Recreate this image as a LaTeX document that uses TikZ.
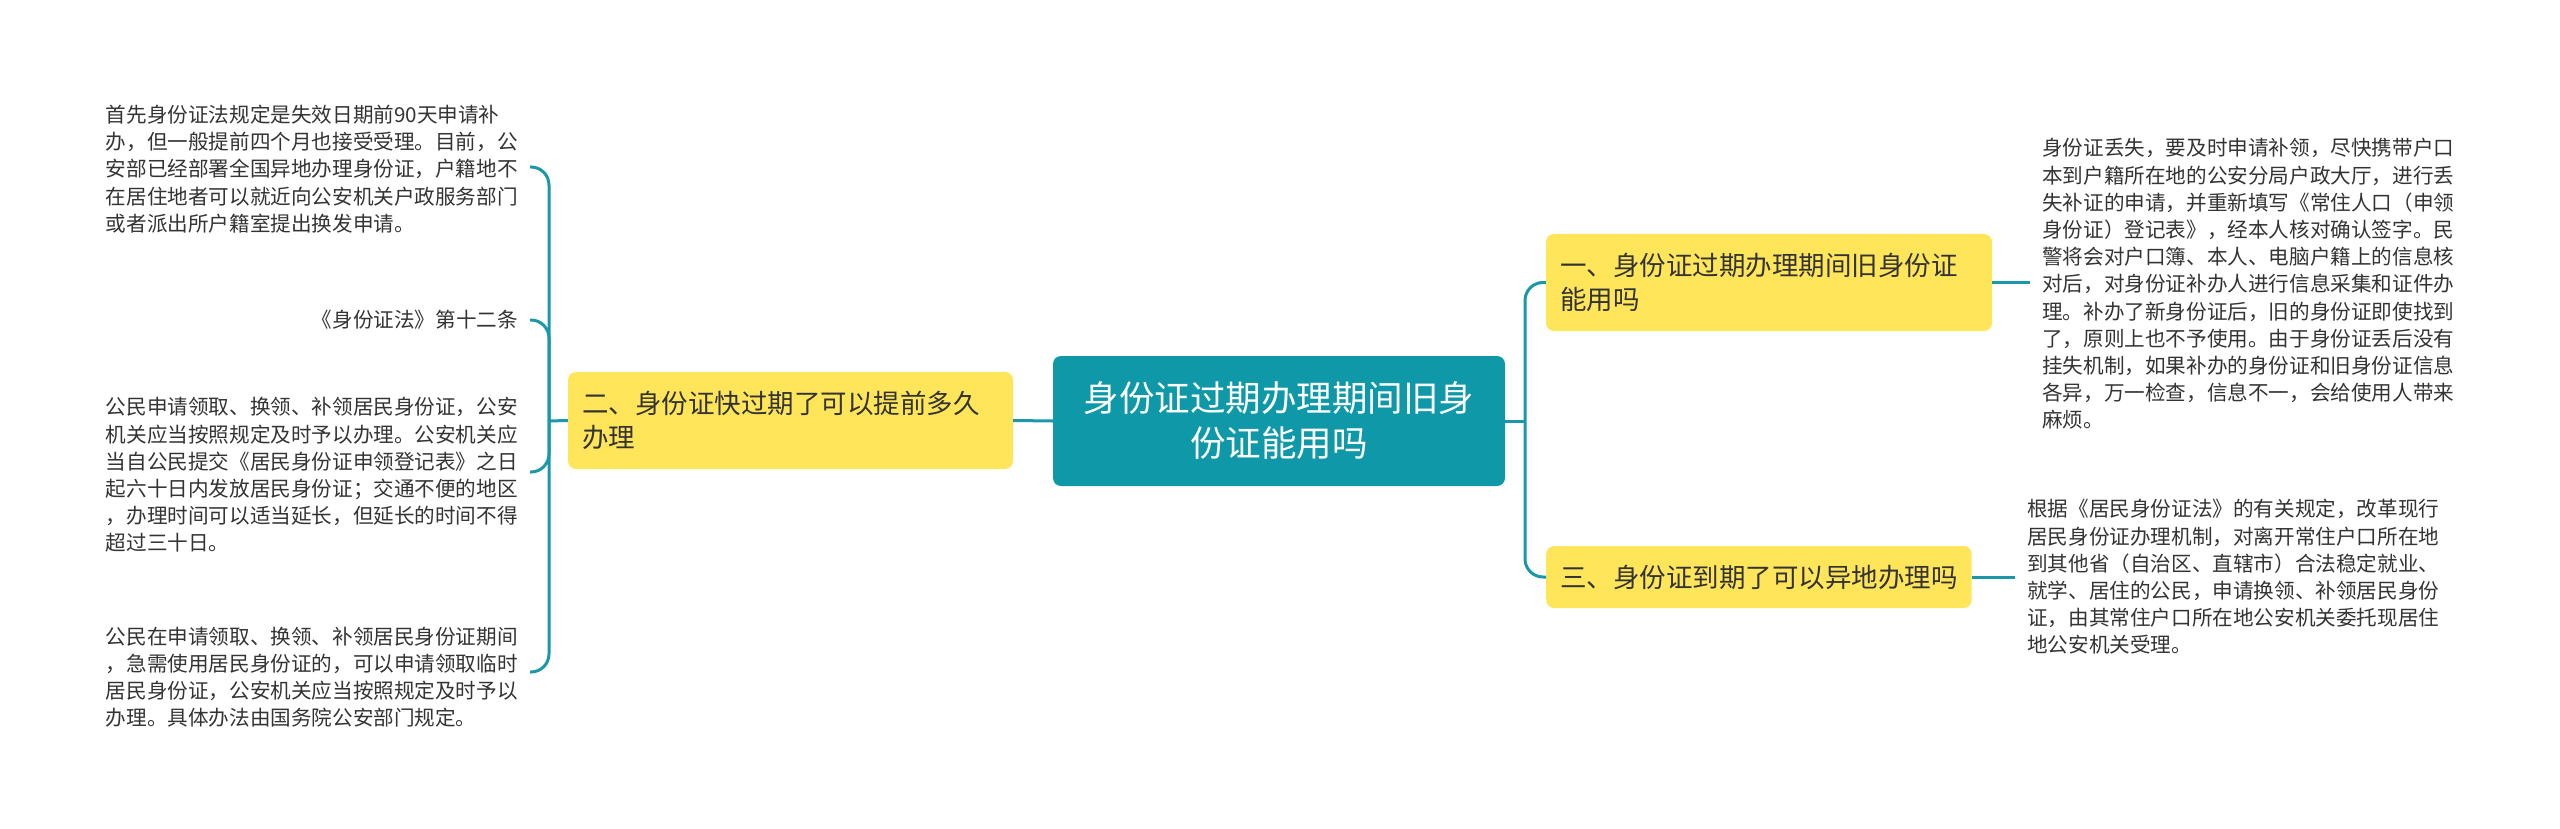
\documentclass[tikz,border=0pt]{standalone}
\usepackage{fontspec}
\setmainfont{Noto Sans CJK SC}
\definecolor{teal1}{HTML}{0F99A8}
\definecolor{line1}{HTML}{1A97A8}
\definecolor{yel}{HTML}{FFE55A}
\definecolor{txt}{HTML}{333333}
\tikzset{
  conn/.style={draw=line1, line width=3pt, rounded corners=18pt},
  rootbox/.style={fill=teal1, rounded corners=8pt, text=white, align=center,
    minimum width=452pt, minimum height=130pt, inner sep=0pt,
    font=\fontsize{35.5}{45}\selectfont},
  topicbox/.style={fill=yel, rounded corners=8pt, text=txt, align=left,
    inner xsep=14pt, inner ysep=0pt, minimum height=#1,
    font=\fontsize{26.5}{34}\selectfont},
  leaf/.style={text=txt, align=left, inner xsep=12pt, inner ysep=4pt,
    font=\fontsize{20.6}{27.2}\selectfont},
}
\begin{document}
\begin{tikzpicture}[x=1pt,y=-1pt]
\useasboundingbox (0,0) rectangle (2560,829);
% root
\node[rootbox] (root) at (1279,421) {身份证过期办理期间旧身\\份证能用吗};
% topics
\node[topicbox=97pt, text width=417pt] (t2) at (790.5,420.5) {二、身份证快过期了可以提前多久\\办理};
\node[topicbox=97pt, text width=418pt] (t1) at (1769,282.5) {一、身份证过期办理期间旧身份证\\能用吗};
\node[topicbox=62pt, anchor=west] (t3) at (1546,577) {三、身份证到期了可以异地办理吗};
% trunks
\coordinate (lt) at (549,421);
\coordinate (rt) at (1525,421);
% left leaves
\node[leaf, anchor=east] (l1) at (530,169) {首先身份证法规定是失效日期前90天申请补\\办，但一般提前四个月也接受受理。目前，公\\安部已经部署全国异地办理身份证，户籍地不\\在居住地者可以就近向公安机关户政服务部门\\或者派出所户籍室提出换发申请。};
\node[leaf, anchor=east, align=right] (l2) at (530,320) {《身份证法》第十二条};
\node[leaf, anchor=east] (l3) at (530,475) {公民申请领取、换领、补领居民身份证，公安\\机关应当按照规定及时予以办理。公安机关应\\当自公民提交《居民身份证申领登记表》之日\\起六十日内发放居民身份证；交通不便的地区\\，办理时间可以适当延长，但延长的时间不得\\超过三十日。};
\node[leaf, anchor=east] (l4) at (530,677) {公民在申请领取、换领、补领居民身份证期间\\，急需使用居民身份证的，可以申请领取临时\\居民身份证，公安机关应当按照规定及时予以\\办理。具体办法由国务院公安部门规定。};
% right leaves
\node[leaf, anchor=west] (r1) at (2030,284) {身份证丢失，要及时申请补领，尽快携带户口\\本到户籍所在地的公安分局户政大厅，进行丢\\失补证的申请，并重新填写《常住人口（申领\\身份证）登记表》，经本人核对确认签字。民\\警将会对户口簿、本人、电脑户籍上的信息核\\对后，对身份证补办人进行信息采集和证件办\\理。补办了新身份证后，旧的身份证即使找到\\了，原则上也不予使用。由于身份证丢后没有\\挂失机制，如果补办的身份证和旧身份证信息\\各异，万一检查，信息不一，会给使用人带来\\麻烦。};
\node[leaf, anchor=west] (r2) at (2015,577) {根据《居民身份证法》的有关规定，改革现行\\居民身份证办理机制，对离开常住户口所在地\\到其他省（自治区、直辖市）合法稳定就业、\\就学、居住的公民，申请换领、补领居民身份\\证，由其常住户口所在地公安机关委托现居住\\地公安机关受理。};
% connectors
\draw[conn] (root.west) -- (t2.east);
\draw[conn] (root.east) -- (rt);
\draw[conn] (rt) |- (t1.west);
\draw[conn] (rt) |- (t3.west);
\draw[conn] (t2.west) -- (lt);
\draw[conn] (lt) |- ([yshift=2pt]l1.east);
\draw[conn] (lt) |- (l2.east);
\draw[conn] (lt) |- ([yshift=3pt]l3.east);
\draw[conn] (lt) |- ([yshift=5pt]l4.east);
\draw[conn] (t1.east) -- (t1.east -| r1.west);
\draw[conn] (t3.east) -- (t3.east -| r2.west);
\end{tikzpicture}
\end{document}
